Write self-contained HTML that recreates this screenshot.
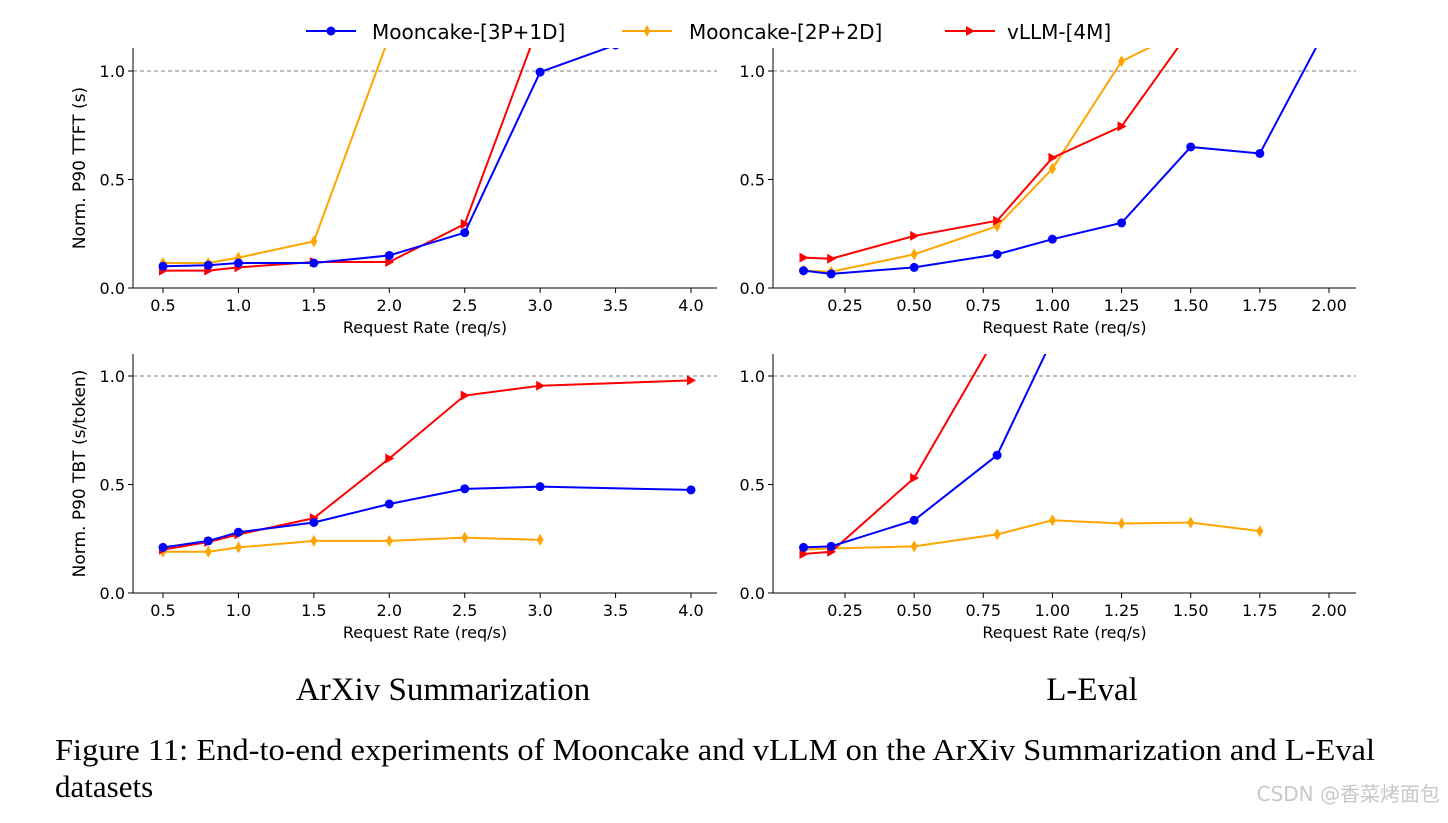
<!DOCTYPE html>
<html><head><meta charset="utf-8"><style>
body{margin:0;background:#fff;width:1448px;height:818px;overflow:hidden}
svg text{font-family:"DejaVu Sans","Liberation Sans",sans-serif}
.serif{font-family:"Liberation Serif",serif}
</style></head><body>
<svg id="fig" width="1448" height="818" xmlns="http://www.w3.org/2000/svg">
<g>
 <g><line x1="306" y1="31" x2="356" y2="31" stroke="#0000ff" stroke-width="2"/><circle cx="331" cy="31" r="4.5" fill="#0000ff"/><text x="372" y="39" font-size="20">Mooncake-[3P+1D]</text></g>
 <g><line x1="622" y1="31" x2="672" y2="31" stroke="#ffa500" stroke-width="2"/><polygon points="647,25 650,31 647,37 644,31" fill="#ffa500"/><text x="689" y="39" font-size="20">Mooncake-[2P+2D]</text></g>
 <g><line x1="945" y1="31" x2="995" y2="31" stroke="#ff0000" stroke-width="2"/><polygon points="966,26 975,31 966,36" fill="#ff0000"/><text x="1007" y="39" font-size="20">vLLM-[4M]</text></g>
</g>
<text class="serif" x="443" y="700" font-size="33" text-anchor="middle">ArXiv Summarization</text>
<text class="serif" x="1092" y="700" font-size="33" text-anchor="middle">L-Eval</text>
<text class="serif" x="55" y="760" font-size="31" textLength="1320" lengthAdjust="spacingAndGlyphs">Figure 11: End-to-end experiments of Mooncake and vLLM on the ArXiv Summarization and L-Eval</text>
<text class="serif" x="55" y="797" font-size="31">datasets</text>
<text x="1440" y="801" font-size="20" fill="#c8c8c8" text-anchor="end" font-family="Liberation Sans, Noto Sans CJK SC, sans-serif">CSDN @香菜烤面包</text>
</svg>
<script>
const xArxiv=[0.5,0.8,1.0,1.5,2.0,2.5,3.0,3.5];
const xArxivTbt=[0.5,0.8,1.0,1.5,2.0,2.5,3.0,4.0];
const xLeval=[0.1,0.2,0.5,0.8,1.0,1.25,1.5,1.75,2.0];
const ttftArx3P1D=[0.10,0.105,0.115,0.115,0.15,0.255,0.995,1.12];
const ttftArx2P2D=[0.115,0.115,0.14,0.215,1.16];
const ttftArxVllm=[0.08,0.08,0.095,0.12,0.12,0.295,1.23];
const ttftLev3P1D=[0.08,0.065,0.095,0.155,0.225,0.30,0.65,0.62,1.22];
const ttftLev2P2D=[0.08,0.075,0.155,0.285,0.55,1.045,1.2];
const ttftLevVllm=[0.14,0.135,0.24,0.31,0.60,0.745,1.19];
const tbtArx3P1D=[0.21,0.24,0.28,0.325,0.41,0.48,0.49,0.475];
const tbtArx2P2D=[0.19,0.19,0.21,0.24,0.24,0.255,0.245];
const tbtArxVllm=[0.2,0.235,0.27,0.345,0.62,0.91,0.955,0.98];
const tbtLev3P1D=[0.21,0.215,0.335,0.635,1.17];
const tbtLev2P2D=[0.2,0.205,0.215,0.27,0.335,0.32,0.325,0.285];
const tbtLevVllm=[0.18,0.19,0.53,1.19];
const yTicks=[0.0,0.5,1.0];
const xTicksArx=["0.5","1.0","1.5","2.0","2.5","3.0","3.5","4.0"];
const xTicksLev=["0.25","0.50","0.75","1.00","1.25","1.50","1.75","2.00"];

const NS="http://www.w3.org/2000/svg",svg=document.getElementById('fig');
function mk(t,a,p){const e=document.createElementNS(NS,t);for(const k in a)e.setAttribute(k,a[k]);(p||svg).appendChild(e);return e;}
let cid=0;
function panel(name,L,R,T,B,x0,x1,px0,px1,xt,ylab,series){
  const g=mk('g',{});
  
  
  const sx=v=>px0+(v-x0)*(px1-px0)/(x1-x0);
  const y0=B,y1=B-217;const sy=v=>y0-(v)*(y0-y1);
  cid++;const cp=mk('clipPath',{id:'c'+cid},g);mk('rect',{x:L,y:T,width:R-L,height:B-T},cp);
  const hl=mk('line',{x1:L,x2:R,y1:sy(1),y2:sy(1),stroke:'#808080','stroke-dasharray':'4,3','stroke-width':1},g);
  
  
  yTicks.forEach(v=>{mk('line',{x1:L-5,x2:L,y1:sy(v),y2:sy(v),stroke:'#000'},g);
    const t=mk('text',{x:L-8,y:sy(v)+6,'font-size':16,'text-anchor':'end'},g);t.textContent=v.toFixed(1);
    
    });
  xt.forEach(s=>{const v=parseFloat(s);mk('line',{x1:sx(v),x2:sx(v),y1:B,y2:B+5,stroke:'#000'},g);
    const t=mk('text',{x:sx(v),y:B+23,'font-size':16,'text-anchor':'middle'},g);t.textContent=s;
    
    });
  const xl=mk('text',{x:(L+R)/2,y:B+45,'font-size':16,'text-anchor':'middle'},g);xl.textContent='Request Rate (req/s)';
  
  
  if(ylab){const yl=mk('text',{x:0,y:0,'font-size':17,'text-anchor':'middle',transform:`translate(${L-48},${(T+B)/2}) rotate(-90)`},g);yl.textContent=ylab;
    
    }
  const sg=mk('g',{'clip-path':`url(#c${cid})`},g);
  series.forEach(([xs,ys,col,m,n])=>{
    const s=mk('g',{},sg);
    
    
    const pts=ys.map((v,i)=>sx(xs[i])+','+sy(v)).join(' ');
    mk('polyline',{points:pts,fill:'none',stroke:col,'stroke-width':2},s);
    ys.forEach((v,i)=>{const x=sx(xs[i]),y=sy(v);let e;
      if(m==='o')e=mk('circle',{cx:x,cy:y,r:4.5,fill:col},s);
      else if(m==='d')e=mk('polygon',{points:`${x},${y-6} ${x+3.5},${y} ${x},${y+6} ${x-3.5},${y}`,fill:col},s);
      else e=mk('polygon',{points:`${x-4},${y-5} ${x+5},${y} ${x-4},${y+5}`,fill:col},s);
      
      });
  });
  mk('line',{x1:L,x2:L,y1:T,y2:B,stroke:'#000','stroke-width':1},g);
  mk('line',{x1:L,x2:R,y1:B,y2:B,stroke:'#000','stroke-width':1},g);
}
panel('ttft-arxiv-chart',133,717,48,288,0.5,4.0,163,691,xTicksArx,'Norm. P90 TTFT (s)',[
 [xArxiv,ttftArx2P2D,'#ffa500','d','series-2p2d'],[xArxiv,ttftArxVllm,'#ff0000','t','series-vllm'],[xArxiv,ttftArx3P1D,'#0000ff','o','series-3p1d']]);
panel('ttft-leval-chart',773,1356,48,288,0.25,2.0,845,1329,xTicksLev,null,[
 [xLeval,ttftLev2P2D,'#ffa500','d','series-2p2d'],[xLeval,ttftLevVllm,'#ff0000','t','series-vllm'],[xLeval,ttftLev3P1D,'#0000ff','o','series-3p1d']]);
panel('tbt-arxiv-chart',133,717,354,593,0.5,4.0,163,691,xTicksArx,'Norm. P90 TBT (s/token)',[
 [xArxivTbt,tbtArx2P2D,'#ffa500','d','series-2p2d'],[xArxivTbt,tbtArxVllm,'#ff0000','t','series-vllm'],[xArxivTbt,tbtArx3P1D,'#0000ff','o','series-3p1d']]);
panel('tbt-leval-chart',773,1356,354,593,0.25,2.0,845,1329,xTicksLev,null,[
 [xLeval,tbtLev2P2D,'#ffa500','d','series-2p2d'],[xLeval,tbtLevVllm,'#ff0000','t','series-vllm'],[xLeval,tbtLev3P1D,'#0000ff','o','series-3p1d']]);
</script>
</body></html>
